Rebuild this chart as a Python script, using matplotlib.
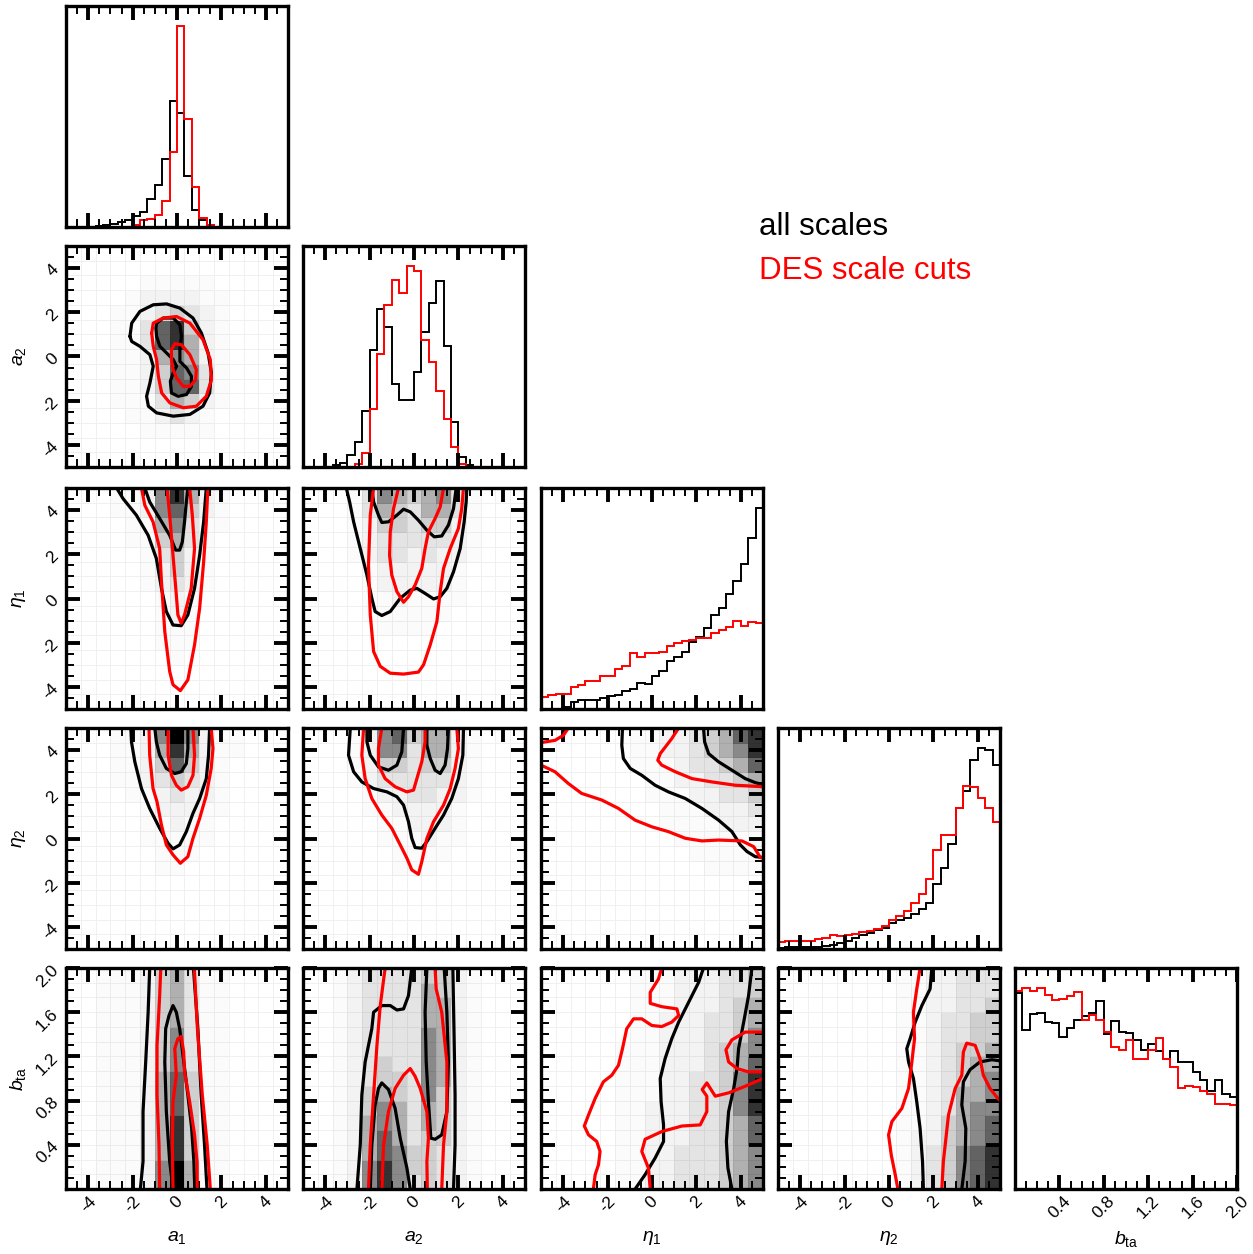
import numpy as np
import matplotlib
matplotlib.use("Agg")
import matplotlib.pyplot as plt
from matplotlib.colors import PowerNorm
from matplotlib.ticker import FixedLocator, MultipleLocator, FormatStrFormatter

plt.rcParams['font.family'] = ['Liberation Sans', 'DejaVu Sans']
plt.rcParams['mathtext.fontset'] = 'custom'
plt.rcParams['mathtext.rm'] = 'Liberation Sans'
plt.rcParams['mathtext.it'] = 'Liberation Sans:italic'
plt.rcParams['axes.unicode_minus'] = False

# parameters
labels = [r'$a_1$', r'$a_2$', r'$\eta_1$', r'$\eta_2$', r'$b_{\rm ta}$']
ranges = [(-5, 5), (-5, 5), (-5, 5), (-5, 5), (0, 2)]
major_ticks = [[-4, -2, 0, 2, 4]] * 4 + [[0.4, 0.8, 1.2, 1.6, 2.0]]
minor_step = [0.5, 0.5, 0.5, 0.5, 0.1]

# 1D marginals (30 bins over the range), black = all scales, red = DES scale cuts
a1_black = [0, 0, 0, 0, 2, 6, 10, 14, 20, 34, 45, 84, 127, 205, 379, 342, 154, 50, 22, 7, 0, 0, 0, 0, 0, 0, 0, 0, 0, 0]
a1_red = [0, 0, 0, 0, 0, 0, 0, 0, 0, 7, 22, 24, 37, 77, 224, 602, 325, 119, 27, 7, 0, 0, 0, 0, 0, 0, 0, 0, 0, 0]
a2_black = [0, 0, 0, 0, 5, 12, 35, 75, 165, 347, 468, 415, 245, 198, 198, 282, 400, 485, 552, 357, 132, 30, 5, 0, 0, 0, 0, 0, 0, 0]
a2_red = [0, 0, 0, 0, 0, 0, 0, 8, 40, 172, 335, 480, 555, 515, 595, 580, 375, 312, 225, 142, 58, 10, 0, 0, 0, 0, 0, 0, 0, 0]
eta1_black = [0, 0, 0, 5, 21, 26, 26, 26, 33, 38, 43, 53, 61, 79, 76, 100, 115, 146, 156, 171, 203, 218, 243, 283, 305, 345, 385, 436, 515, 605]
eta1_red = [35, 43, 46, 46, 66, 73, 85, 85, 98, 98, 120, 130, 168, 158, 170, 170, 173, 190, 198, 205, 208, 213, 215, 228, 238, 248, 265, 250, 261, 260]
eta2_black = [3, 5, 5, 5, 5, 6, 8, 11, 18, 23, 33, 43, 48, 58, 63, 78, 88, 93, 105, 118, 138, 193, 243, 315, 421, 471, 565, 600, 595, 550]
eta2_red = [21, 23, 25, 25, 23, 30, 32, 43, 38, 43, 45, 51, 55, 61, 68, 88, 100, 113, 138, 163, 208, 295, 341, 341, 421, 488, 485, 451, 421, 378]
bta_black = [583, 473, 521, 523, 498, 493, 453, 478, 503, 515, 525, 561, 461, 500, 468, 463, 443, 413, 433, 411, 388, 411, 378, 378, 348, 323, 293, 325, 283, 275]
bta_red = [588, 598, 588, 598, 578, 563, 565, 573, 585, 503, 518, 503, 468, 423, 415, 443, 388, 388, 415, 448, 388, 363, 300, 308, 303, 293, 283, 253, 253, 251]

# 2D densities (all scales), 15x15 cells, rows written top -> bottom, 0 = white .. 9 = black
dens_a2a1 = ["000000000000000", "000000000000000", "000001111100000", "000012222110000",
             "000112343210000", "000113784210000", "000113785210000", "000112565210000",
             "000112476310000", "000112477310000", "000111354210000", "000011232100000",
             "000001111100000", "000000000000000", "000000000000000"]
dens_e1a1 = ["000112685210000", "000112674210000", "000011563110000", "000011453100000",
             "000001342100000", "000001242100000", "000001232100000", "000000121000000",
             "000000121000000", "000000111000000", "000000111000000", "000000010000000",
             "000000000000000", "000000000000000", "000000000000000"]
dens_e1a2 = ["000136545631000", "000135435531000", "000124434421000", "000123333321000",
             "000123323221000", "000012222210000", "000012222210000", "000011211110000",
             "000011111100000", "000001111000000", "000000000000000", "000000000000000",
             "000000000000000", "000000000000000", "000000000000000"]
dens_e2a1 = ["000112696211000", "000112585211000", "000112474210000", "000112343210000",
             "000011232210000", "000001222110000", "000001121100000", "000001111100000",
             "000000111000000", "000000110000000", "000000000000000", "000000000000000",
             "000000000000000", "000000000000000", "000000000000000"]
dens_e2a2 = ["000126745521000", "000126635521000", "000124434421000", "000123333321000",
             "000012233221000", "000011222210000", "000001122210000", "000001112110000",
             "000000111100000", "000000111000000", "000000000000000", "000000000000000",
             "000000000000000", "000000000000000", "000000000000000"]
dens_e2e1 = ["000000112234578", "000000112234568", "000000111233457", "000000011223345",
             "000000011122334", "000000001112223", "000000001111222", "000000000111111",
             "000000000011111", "000000000001111", "000000000000000", "000000000000000",
             "000000000000000", "000000000000000", "000000000000000"]
dens_ba1 = ["001112453110000", "001112453110000", "001112453110000", "001112453110000",
            "001112463110000", "001112463110000", "001112463110000", "001112574110000",
            "001112574110000", "001112574110000", "001112584110000", "001112584110000",
            "001112584110000", "001112695110000", "001112695110000"]
dens_ba2 = ["001233334421000", "001233335421000", "001233335521000", "001233335521000",
            "001233336521000", "001233336521000", "001234336521000", "001234436521000",
            "001245436421000", "001246535421000", "001256535421000", "001257534421000",
            "001257644321000", "001268644321000", "001268634321000"]
dens_be1 = ["000000111222334", "000000111222334", "000000111222345", "000000112223345",
            "000000112223346", "000001112223456", "000001112223457", "000001112233468",
            "000001112233468", "000001122233468", "000001122233457", "000001122233457",
            "000001122333456", "000001122333456", "000001122333456"]
dens_be2 = ["000000001122333", "000000001122333", "000000001122334", "000000001123344",
            "000000001123344", "000000001123445", "000000001123455", "000000001123456",
            "000000001123556", "000000001123566", "000000001124567", "000000001224567",
            "000000001234678", "000000001234678", "000000001234678"]

# contour lines (x, y)
ct_a2a1_k_outer = [(-2.12, 0.91), (-2.04, 1.51), (-1.67, 2.04), (-1.07, 2.34), (-0.47, 2.38), (0.13, 2.19), (0.72, 1.74),
                   (1.10, 1.06), (1.40, 0.16), (1.55, -0.74), (1.47, -1.65), (1.17, -2.25), (0.58, -2.62), (-0.17, -2.70),
                   (-0.92, -2.55), (-1.29, -2.25), (-1.37, -1.80), (-1.22, -1.20), (-1.07, -0.44), (-1.22, 0.08),
                   (-1.67, 0.46), (-2.04, 0.68), (-2.12, 0.91)]
ct_a2a1_k_inner = [(-0.92, 1.51), (-0.62, 1.74), (-0.17, 1.74), (0.13, 1.44), (0.20, 0.91), (0.13, 0.31), (0.13, -0.22),
                   (0.43, -0.52), (0.65, -0.89), (0.65, -1.35), (0.43, -1.72), (0.05, -1.80), (-0.25, -1.65), (-0.30, -1.12),
                   (-0.17, -0.74), (-0.02, -0.44), (-0.17, -0.14), (-0.47, 0.16), (-0.77, 0.46), (-0.92, 0.91),
                   (-0.95, 1.29), (-0.92, 1.51)]
ct_a2a1_r_outer = [(-1.14, 1.06), (-1.07, 1.51), (-0.62, 1.74), (-0.02, 1.81), (0.58, 1.51), (1.17, 0.76), (1.50, -0.14),
                   (1.55, -1.05), (1.32, -1.80), (0.87, -2.25), (0.28, -2.32), (-0.32, -2.10), (-0.69, -1.65),
                   (-0.84, -0.89), (-0.92, -0.14), (-1.07, 0.46), (-1.14, 1.06)]
ct_a2a1_r_inner = [(-0.25, -0.14), (-0.25, 0.31), (-0.10, 0.58), (0.20, 0.53), (0.58, 0.08), (0.87, -0.59), (0.84, -1.05),
                   (0.58, -1.35), (0.28, -1.35), (-0.02, -0.97), (-0.20, -0.52), (-0.25, -0.14)]

ct_e1a1_k_outer = [(-2.72, 5.0), (-2.43, 4.52), (-1.83, 3.77), (-1.30, 2.86), (-0.93, 1.81), (-0.70, 0.46), (-0.48, -0.59),
                   (-0.18, -1.20), (0.19, -1.23), (0.49, -0.74), (0.79, 0.46), (1.02, 1.96), (1.20, 3.47), (1.32, 5.0)]
ct_e1a1_k_inner = [(-1.45, 5.0), (-1.23, 4.37), (-0.78, 3.62), (-0.33, 2.86), (-0.06, 2.19), (0.12, 2.19), (0.24, 2.56),
                   (0.34, 3.47), (0.42, 4.37), (0.49, 5.0)]
ct_e1a1_r_outer = [(-1.60, 5.0), (-1.45, 4.22), (-1.08, 3.47), (-0.78, 2.26), (-0.70, 0.76), (-0.55, -1.50), (-0.33, -3.30),
                   (-0.18, -3.90), (0.15, -4.17), (0.49, -3.68), (0.79, -2.10), (1.02, -0.44), (1.20, 1.66), (1.32, 3.47),
                   (1.39, 5.0)]
ct_e1a1_r_inner = [(-0.45, 5.0), (-0.33, 3.77), (-0.18, 1.96), (-0.03, 0.16), (0.04, -0.74), (0.19, -1.12), (0.34, -0.74),
                   (0.64, 0.46), (0.79, 2.26), (0.69, 3.77), (0.57, 5.0)]

ct_e1a2_k_outer = [(-3.05, 5.0), (-2.90, 4.37), (-2.72, 3.47), (-2.42, 2.26), (-2.12, 1.06), (-1.90, 0.01), (-1.75, -0.59),
                   (-1.45, -0.77), (-1.07, -0.59), (-0.62, 0.01), (-0.17, 0.38), (0.13, 0.46), (0.50, 0.23), (0.88, -0.02),
                   (1.18, 0.08), (1.48, 0.46), (1.78, 1.21), (2.08, 2.26), (2.26, 3.47), (2.35, 4.37), (2.38, 5.0)]
ct_e1a2_k_inner = [(-1.90, 5.0), (-1.82, 4.37), (-1.60, 3.77), (-1.45, 3.44), (-1.15, 3.47), (-0.77, 3.77), (-0.47, 4.04),
                   (-0.17, 3.92), (0.20, 3.54), (0.58, 3.09), (0.91, 2.79), (1.25, 2.83), (1.55, 3.32), (1.78, 4.07),
                   (1.90, 5.0)]
ct_e1a2_r_outer = [(-1.82, 5.0), (-1.97, 3.77), (-2.05, 1.51), (-1.97, -0.74), (-1.82, -2.40), (-1.52, -3.07),
                   (-1.07, -3.38), (-0.47, -3.42), (0.20, -3.33), (0.43, -3.00), (0.73, -2.10), (1.03, -1.05),
                   (1.18, 0.31), (1.33, 1.36), (1.63, 2.26), (2.00, 3.17), (2.15, 4.07), (2.23, 5.0)]
ct_e1a2_r_inner = [(-0.70, 5.0), (-0.92, 4.07), (-1.07, 3.02), (-1.10, 1.96), (-1.00, 1.06), (-0.77, 0.31), (-0.47, -0.17),
                   (-0.25, 0.08), (0.05, 0.61), (0.35, 1.36), (0.50, 2.26), (0.65, 3.02), (0.95, 3.62), (1.18, 4.14),
                   (1.33, 5.0)]

ct_e2a1_k_outer = [(-2.08, 5.0), (-2.05, 4.37), (-1.90, 3.47), (-1.60, 2.26), (-1.23, 1.36), (-0.78, 0.46), (-0.40, -0.22),
                   (-0.18, -0.47), (0.12, -0.29), (0.42, 0.31), (0.72, 1.14), (1.02, 1.81), (1.32, 2.71), (1.42, 3.77),
                   (1.47, 5.0)]
ct_e2a1_k_inner = [(-1.00, 5.0), (-0.93, 4.37), (-0.78, 3.77), (-0.48, 3.17), (-0.10, 2.94), (0.19, 3.02), (0.42, 3.39),
                   (0.49, 4.07), (0.49, 5.0)]
ct_e2a1_r_outer = [(-1.26, 5.0), (-1.23, 3.77), (-1.08, 2.26), (-0.90, 1.66), (-0.70, 0.61), (-0.48, -0.29), (-0.18, -0.74),
                   (0.15, -1.12), (0.49, -0.82), (0.72, 0.01), (1.02, 0.91), (1.32, 1.96), (1.54, 3.17), (1.62, 4.07),
                   (1.54, 5.0)]
ct_e2a1_r_inner = [(-0.40, 5.0), (-0.40, 3.77), (-0.25, 2.86), (-0.03, 2.41), (0.19, 2.19), (0.49, 2.34), (0.72, 2.86),
                   (0.79, 3.77), (0.72, 5.0)]

ct_e2a2_k_outer = [(-2.87, 5.0), (-2.95, 3.77), (-2.72, 3.02), (-2.35, 2.56), (-1.82, 2.26), (-1.22, 2.11), (-0.77, 1.89),
                   (-0.47, 1.51), (-0.25, 0.76), (-0.10, 0.01), (0.05, -0.41), (0.35, -0.44), (0.58, -0.14), (0.95, 0.46),
                   (1.33, 1.06), (1.70, 1.81), (2.00, 2.71), (2.20, 3.77), (2.23, 5.0)]
ct_e2a2_k_in1 = [(-2.12, 5.0), (-2.12, 4.37), (-1.97, 3.77), (-1.60, 3.24), (-1.15, 3.09), (-0.77, 3.32), (-0.55, 3.92),
                 (-0.47, 5.0)]
ct_e2a2_k_in2 = [(0.58, 5.0), (0.58, 4.22), (0.73, 3.62), (0.95, 3.09), (1.18, 2.94), (1.40, 3.32), (1.51, 4.07), (1.55, 5.0)]
ct_e2a2_r_outer = [(-2.27, 5.0), (-2.35, 3.77), (-2.20, 2.71), (-1.90, 1.81), (-1.45, 1.06), (-1.00, 0.46), (-0.62, -0.29),
                   (-0.32, -0.89), (-0.10, -1.42), (0.20, -1.62), (0.35, -1.05), (0.58, 0.00), (0.88, 0.76), (1.33, 1.51),
                   (1.63, 2.26), (1.85, 3.17), (2.00, 4.07), (1.93, 5.0)]
ct_e2a2_r_inner = [(-1.45, 5.0), (-1.60, 4.07), (-1.60, 3.32), (-1.30, 2.71), (-0.85, 2.34), (-0.32, 2.11), (-0.02, 2.19),
                   (0.13, 2.71), (0.35, 3.47), (0.50, 4.37), (0.50, 5.0)]

ct_e2e1_r_a = [(-5.0, 4.34), (-4.37, 4.44), (-3.99, 4.67), (-3.77, 5.0)]
ct_e2e1_r_b = [(-5.0, 3.32), (-4.37, 3.02), (-3.77, 2.49), (-3.17, 2.04), (-2.26, 1.74), (-1.51, 1.36), (-0.76, 0.83),
               (-0.01, 0.53), (0.74, 0.31), (1.50, 0.01), (2.25, -0.11), (3.00, -0.07), (4.05, -0.11), (4.58, -0.37),
               (4.88, -0.86), (5.0, -0.89)]
ct_e2e1_r_c = [(1.20, 5.0), (0.89, 4.52), (0.37, 3.84), (0.26, 3.54), (0.44, 3.32), (1.05, 3.02), (1.80, 2.71), (2.70, 2.56),
               (3.75, 2.41), (4.35, 2.38), (5.0, 2.34)]
ct_e2e1_k_outer = [(-1.33, 5.0), (-1.36, 4.22), (-1.29, 3.62), (-0.98, 3.17), (-0.46, 2.86), (0.14, 2.41), (0.74, 2.11),
                   (1.50, 1.81), (2.25, 1.36), (3.00, 0.83), (3.60, 0.31), (3.98, -0.29), (4.28, -0.59), (4.65, -0.82),
                   (5.0, -0.86)]
ct_e2e1_k_inner = [(2.32, 5.0), (2.37, 4.37), (2.55, 3.84), (3.00, 3.47), (3.60, 3.09), (4.20, 2.71), (4.65, 2.53), (5.0, 2.44)]

ct_ba1_k_left = [(-1.65, 0.0), (-1.53, 0.25), (-1.53, 0.70), (-1.41, 1.15), (-1.30, 1.60), (-1.23, 2.0)]
ct_ba1_k_right = [(1.35, 0.0), (1.24, 0.40), (1.09, 0.85), (0.94, 1.45), (0.74, 2.0)]
ct_ba1_k_inner = [(-0.18, 0.0), (-0.33, 0.25), (-0.48, 0.70), (-0.55, 1.15), (-0.51, 1.45), (-0.36, 1.57), (-0.18, 1.66),
                  (-0.03, 1.60), (0.12, 1.45), (0.27, 1.21), (0.49, 0.85), (0.66, 0.55), (0.76, 0.25), (0.80, 0.0)]
ct_ba1_r_left = [(-0.78, 0.0), (-0.81, 0.40), (-0.90, 0.85), (-0.90, 1.30), (-0.78, 1.75), (-0.73, 2.0)]
ct_ba1_r_right = [(1.50, 0.0), (1.36, 0.40), (1.14, 0.85), (0.92, 1.45), (0.78, 2.0)]
ct_ba1_r_inner = [(-0.18, 0.0), (-0.21, 0.40), (-0.18, 0.79), (-0.03, 1.03), (-0.10, 1.27), (0.04, 1.36), (0.19, 1.38),
                  (0.30, 1.24), (0.34, 1.06), (0.57, 0.79), (0.79, 0.49), (0.90, 0.25), (0.91, 0.0)]

ct_ba2_k_outer_l = [(-2.57, 0.0), (-2.42, 0.40), (-2.35, 0.85), (-2.20, 1.15), (-1.90, 1.45), (-1.82, 1.60), (-1.45, 1.66),
                    (-1.07, 1.66), (-0.77, 1.62), (-0.47, 1.63), (-0.25, 1.75), (-0.10, 2.0)]
ct_ba2_k_outer_r = [(1.75, 2.0), (1.80, 1.45), (1.85, 0.85), (1.85, 0.40), (1.78, 0.0)]
ct_ba2_k_in_l = [(-1.97, 0.0), (-1.90, 0.40), (-1.75, 0.76), (-1.60, 0.91), (-1.45, 0.96), (-1.15, 0.90), (-0.85, 0.73),
                 (-0.62, 0.46), (-0.32, 0.19), (-0.17, 0.0)]
ct_ba2_k_in_r = [(0.58, 2.0), (0.50, 1.60), (0.55, 1.15), (0.65, 0.79), (0.76, 0.46), (0.95, 0.45), (1.25, 0.49),
                 (1.48, 0.70), (1.55, 1.15), (1.48, 1.60), (1.36, 2.0)]
ct_ba2_r_outer_l = [(-2.05, 0.0), (-1.97, 0.40), (-1.82, 0.85), (-1.67, 1.30), (-1.52, 1.66), (-1.30, 2.0)]
ct_ba2_r_outer_r = [(1.25, 0.0), (1.33, 0.40), (1.48, 0.70), (1.48, 1.15), (1.25, 1.60), (1.00, 1.81), (0.95, 2.0)]
ct_ba2_r_inner = [(-1.45, 0.0), (-1.37, 0.40), (-1.15, 0.70), (-0.85, 0.91), (-0.47, 1.03), (-0.17, 1.09), (0.05, 1.02),
                  (0.28, 0.91), (0.58, 0.70), (0.65, 0.46), (0.58, 0.25), (0.60, 0.0)]

ct_be1_r_a = [(0.44, 2.0), (0.29, 1.90), (-0.08, 1.78), (-0.08, 1.68), (0.44, 1.65), (1.12, 1.63), (1.20, 1.57), (0.89, 1.51),
              (0.44, 1.47), (-0.01, 1.48), (-0.46, 1.54), (-0.83, 1.54), (-1.14, 1.45), (-1.33, 1.27), (-1.51, 1.12),
              (-1.81, 1.03), (-2.19, 0.97), (-2.56, 0.82), (-2.86, 0.67), (-3.05, 0.57), (-2.86, 0.49), (-2.49, 0.43),
              (-2.34, 0.34), (-2.41, 0.22), (-2.56, 0.13), (-2.64, 0.0)]
ct_be1_r_b = [(-0.08, 0.0), (-0.16, 0.19), (-0.46, 0.34), (-0.31, 0.45), (0.44, 0.52), (1.35, 0.57), (2.17, 0.58),
              (2.47, 0.70), (2.47, 0.84), (2.26, 0.90), (2.47, 0.96), (2.85, 0.84), (3.45, 0.87), (4.20, 0.93), (5.0, 1.0)]
ct_be1_r_c = [(5.0, 1.42), (4.20, 1.42), (3.60, 1.35), (3.33, 1.26), (3.45, 1.15), (3.83, 1.09), (4.35, 1.06), (5.0, 1.06)]
ct_be1_k_left = [(2.32, 2.0), (2.10, 1.87), (1.65, 1.69), (1.20, 1.51), (0.89, 1.36), (0.59, 1.18), (0.37, 1.0),
                 (0.41, 0.79), (0.52, 0.58), (0.52, 0.43), (0.14, 0.28), (-0.31, 0.13), (-0.76, 0.0)]
ct_be1_k_right = [(4.50, 2.0), (4.35, 1.75), (4.13, 1.51), (3.90, 1.27), (3.83, 1.09), (3.68, 0.91), (3.45, 0.70),
                  (3.35, 0.43), (3.42, 0.19), (3.60, 0.0)]

ct_be2_k_left = [(1.93, 2.0), (1.85, 1.81), (1.48, 1.66), (1.18, 1.51), (0.95, 1.36), (0.80, 1.27), (0.88, 1.15),
                 (1.10, 1.0), (1.25, 0.79), (1.40, 0.55), (1.51, 0.25), (1.55, 0.0)]
ct_be2_r_left = [(1.40, 2.0), (1.25, 1.81), (1.10, 1.60), (1.15, 1.36), (1.03, 1.15), (0.88, 0.91), (0.58, 0.73),
                 (0.13, 0.61), (-0.02, 0.49), (0.10, 0.31), (0.28, 0.13), (0.40, 0.0)]
ct_be2_r_right = [(2.38, 0.0), (2.45, 0.25), (2.68, 0.67), (2.98, 0.91), (3.28, 1.03), (3.35, 1.24), (3.50, 1.32),
                  (3.88, 1.30), (4.10, 1.18), (4.25, 1.03), (4.55, 0.91), (4.90, 0.82), (5.0, 0.80)]
ct_be2_k_right = [(3.28, 0.0), (3.43, 0.25), (3.46, 0.55), (3.28, 0.76), (3.35, 0.97), (3.65, 1.08), (4.10, 1.15),
                  (4.63, 1.17), (5.0, 1.16)]

BLACK = 'black'
RED = '#ff0000'

hists = {0: (a1_black, a1_red), 1: (a2_black, a2_red), 2: (eta1_black, eta1_red),
         3: (eta2_black, eta2_red), 4: (bta_black, bta_red)}

panels = {
    (1, 0): (dens_a2a1, [ct_a2a1_k_outer, ct_a2a1_k_inner], [ct_a2a1_r_outer, ct_a2a1_r_inner]),
    (2, 0): (dens_e1a1, [ct_e1a1_k_outer, ct_e1a1_k_inner], [ct_e1a1_r_outer, ct_e1a1_r_inner]),
    (2, 1): (dens_e1a2, [ct_e1a2_k_outer, ct_e1a2_k_inner], [ct_e1a2_r_outer, ct_e1a2_r_inner]),
    (3, 0): (dens_e2a1, [ct_e2a1_k_outer, ct_e2a1_k_inner], [ct_e2a1_r_outer, ct_e2a1_r_inner]),
    (3, 1): (dens_e2a2, [ct_e2a2_k_outer, ct_e2a2_k_in1, ct_e2a2_k_in2], [ct_e2a2_r_outer, ct_e2a2_r_inner]),
    (3, 2): (dens_e2e1, [ct_e2e1_k_outer, ct_e2e1_k_inner], [ct_e2e1_r_a, ct_e2e1_r_b, ct_e2e1_r_c]),
    (4, 0): (dens_ba1, [ct_ba1_k_left, ct_ba1_k_right, ct_ba1_k_inner], [ct_ba1_r_left, ct_ba1_r_right, ct_ba1_r_inner]),
    (4, 1): (dens_ba2, [ct_ba2_k_outer_l, ct_ba2_k_outer_r, ct_ba2_k_in_l, ct_ba2_k_in_r],
             [ct_ba2_r_outer_l, ct_ba2_r_outer_r, ct_ba2_r_inner]),
    (4, 2): (dens_be1, [ct_be1_k_left, ct_be1_k_right], [ct_be1_r_a, ct_be1_r_b, ct_be1_r_c]),
    (4, 3): (dens_be2, [ct_be2_k_left, ct_be2_k_right], [ct_be2_r_left, ct_be2_r_right]),
}


def to_grid(rows):
    # rows are given top to bottom, pcolormesh wants bottom first
    return np.array([[int(c) for c in r] for r in rows[::-1]], dtype=float)


def set_axis(axis, k):
    axis.set_major_locator(FixedLocator(major_ticks[k]))
    axis.set_minor_locator(MultipleLocator(minor_step[k]))
    if k == 4:
        axis.set_major_formatter(FormatStrFormatter('%.1f'))
    else:
        axis.set_major_formatter(FormatStrFormatter('%d'))


fig = plt.figure(figsize=(12.53, 12.54), dpi=100)
FW, FH = 1253.0, 1254.0
lefts = [66, 303, 541, 778, 1015]
tops = [6, 246, 488, 728, 968]
W, H = 222, 221

for i in range(5):
    for j in range(i + 1):
        ax = fig.add_axes([lefts[j] / FW, 1 - (tops[i] + H) / FH, W / FW, H / FH])
        diag = (i == j)
        ax.set_xlim(*ranges[j])
        set_axis(ax.xaxis, j)
        if diag:
            edges = np.linspace(ranges[j][0], ranges[j][1], 31)
            hb, hr = hists[j]
            ax.stairs(hb, edges, color=BLACK, lw=1.4)
            ax.stairs(hr, edges, color=RED, lw=1.4)
            ax.set_ylim(0, 1.1 * max(max(hb), max(hr)))
            ax.set_yticks([])
        else:
            ax.set_ylim(*ranges[i])
            set_axis(ax.yaxis, i)
            dens, blacks, reds = panels[(i, j)]
            z = to_grid(dens)
            xe = np.linspace(ranges[j][0], ranges[j][1], z.shape[1] + 1)
            ye = np.linspace(ranges[i][0], ranges[i][1], z.shape[0] + 1)
            ax.pcolormesh(xe, ye, z, cmap='Greys', norm=PowerNorm(1.5, vmin=0, vmax=9),
                          edgecolors=(0, 0, 0, 0.06), linewidth=0.5, zorder=1)
            for c in blacks:
                xs, ys = zip(*c)
                ax.plot(xs, ys, color=BLACK, lw=2.3, solid_joinstyle='round', solid_capstyle='round', zorder=3)
            for c in reds:
                xs, ys = zip(*c)
                ax.plot(xs, ys, color=RED, lw=2.3, solid_joinstyle='round', solid_capstyle='round', zorder=3)

        for s in ax.spines.values():
            s.set_linewidth(2.4)
            s.set_zorder(5)
        ax.tick_params(which='both', direction='in', top=True, bottom=True,
                       left=not diag, right=not diag, labelsize=12.5,
                       labelbottom=(i == 4), labelleft=(j == 0 and not diag))
        ax.tick_params(which='major', length=10, width=2.8)
        ax.tick_params(which='minor', length=5.5, width=1.4)
        for lab in ax.get_xticklabels() + ax.get_yticklabels():
            lab.set_rotation(45)

        if i == 4:
            ax.set_xlabel(labels[j], fontsize=14)
            ax.xaxis.set_label_coords(0.5, -0.18)
        if j == 0 and not diag:
            ax.set_ylabel(labels[i], fontsize=14)
            ax.yaxis.set_label_coords(-0.17, 0.5)

fig.text(759 / FW, 1 - 235 / FH, 'all scales', color=BLACK, fontsize=22.5, va='baseline', ha='left')
fig.text(759 / FW, 1 - 279 / FH, 'DES scale cuts', color=RED, fontsize=22.5, va='baseline', ha='left')

fig.savefig('out.png', dpi=100)
